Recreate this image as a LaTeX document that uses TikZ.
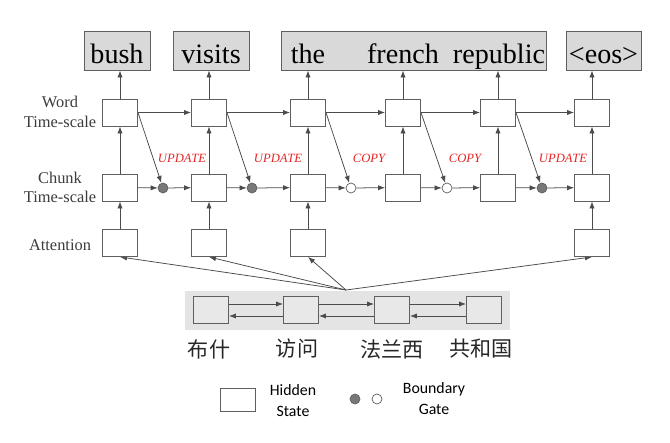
\documentclass[tikz,border=0pt]{standalone}
\usepackage{fontspec}
\setmainfont{Liberation Serif}
\newfontfamily\legendfont{Carlito}
\newfontfamily\cjk{Noto Sans CJK SC}
\usepackage{tikz}
\definecolor{edgegray}{RGB}{75,75,75}
\definecolor{boxgray}{RGB}{95,95,95}
\definecolor{outfill}{RGB}{217,217,217}
\definecolor{encfill}{RGB}{232,232,232}
\definecolor{encbg}{RGB}{228,228,228}
\definecolor{gatefill}{RGB}{120,120,120}
\definecolor{labelred}{RGB}{232,36,36}
\definecolor{labelgray}{RGB}{60,60,60}
\usetikzlibrary{arrows.meta}
\pgfdeclarelayer{bglayer}
\pgfdeclarelayer{edgelayer}
\pgfdeclarelayer{nodelayer}
\pgfsetlayers{bglayer,edgelayer,nodelayer,main}
\tikzstyle{state}=[rectangle,fill=white,draw=boxgray,line width=0.75pt,minimum width=1.05cm,minimum height=0.81cm,inner sep=0pt]
\tikzstyle{encstate}=[state,fill=encfill]
\tikzstyle{outbox}=[rectangle,fill=outfill,draw=boxgray,line width=0.75pt,minimum height=1.17cm,inner sep=0pt]
\tikzstyle{outword}=[inner sep=0pt,font=\fontsize{24}{28}\selectfont]
\tikzstyle{gate}=[circle,fill=gatefill,draw=boxgray,line width=0.6pt,minimum size=0.3cm,inner sep=0pt]
\tikzstyle{opengate}=[gate,fill=white]
\tikzstyle{rowlabel}=[align=center,text=labelgray,font=\fontsize{14}{16.5}\selectfont]
\tikzstyle{gatelabel}=[text=labelred,font=\fontsize{10.8}{12}\selectfont\itshape]
\tikzstyle{srcword}=[text=black!85,font=\fontsize{18}{20}\selectfont\cjk]
\tikzstyle{legendtext}=[align=center,font=\fontsize{13.5}{18}\selectfont\legendfont]
\tikzstyle{arr}=[-{Latex[length=6pt,width=4.5pt]},draw=edgegray,line width=0.65pt]

\begin{document}
\begin{tikzpicture}[x=0.03cm,y=-0.03cm]
        \useasboundingbox (0,0) rectangle (670,442);
        \begin{pgfonlayer}{bglayer}
            \fill [encbg] (185,291) rectangle (510,330);
        \end{pgfonlayer}

        \begin{pgfonlayer}{nodelayer}
            % output words
            \node [style = outbox, minimum width=1.98cm] (out1) at (117,50.5) {};
            \node [style = outbox, minimum width=2.28cm] (out2) at (211,50.5) {};
            \node [style = outbox, minimum width=7.95cm] (out3) at (413.5,50.5) {};
            \node [style = outbox, minimum width=2.25cm] (out6) at (603.5,50.5) {};
            \node [style = outword, anchor=base] (tbush) at (117,63) {bush};
            \node [style = outword, anchor=base] (tvisits) at (211,63) {visits};
            \node [style = outword, anchor=base] (tthe) at (308,63) {the};
            \node [style = outword, anchor=base] (tfrench) at (403,63) {french};
            \node [style = outword, anchor=base] (trepublic) at (499,63) {republic};
            \node [style = outword, anchor=base] (teos) at (603.5,63) {\textless eos\textgreater};

            % row labels
            \node [style = rowlabel] (lword) at (60,112) {Word\\Time-scale};
            \node [style = rowlabel] (lchunk) at (60,187.5) {Chunk\\Time-scale};
            \node [style = rowlabel] (lattn) at (60,245) {Attention};

            % word time-scale
            \node [style = state] (w1) at (120,112.5) {};
            \node [style = state] (w2) at (209,112.5) {};
            \node [style = state] (w3) at (308,112.5) {};
            \node [style = state] (w4) at (403,112.5) {};
            \node [style = state] (w5) at (498,112.5) {};
            \node [style = state] (w6) at (592,112.5) {};

            % chunk time-scale
            \node [style = state] (c1) at (120,187.5) {};
            \node [style = state] (c2) at (209,187.5) {};
            \node [style = state] (c3) at (308,187.5) {};
            \node [style = state] (c4) at (403,187.5) {};
            \node [style = state] (c5) at (498,187.5) {};
            \node [style = state] (c6) at (592,187.5) {};

            % boundary gates
            \node [style = gate] (g1) at (163,188) {};
            \node [style = gate] (g2) at (252,188) {};
            \node [style = opengate] (g3) at (351,188) {};
            \node [style = opengate] (g4) at (447,188) {};
            \node [style = gate] (g5) at (542,188) {};
            \node [style = gatelabel] (u1) at (182,158) {UPDATE};
            \node [style = gatelabel] (u2) at (278,158) {UPDATE};
            \node [style = gatelabel] (p3) at (369,158) {COPY};
            \node [style = gatelabel] (p4) at (465,158) {COPY};
            \node [style = gatelabel] (u5) at (563,158) {UPDATE};

            % attention
            \node [style = state] (a1) at (120,243) {};
            \node [style = state] (a2) at (209,243) {};
            \node [style = state] (a3) at (308,243) {};
            \node [style = state] (a6) at (592,243) {};
            \coordinate (src) at (346,290);

            % encoder
            \node [style = encstate] (e1) at (211,310) {};
            \node [style = encstate] (e2) at (301,310) {};
            \node [style = encstate] (e3) at (392,310) {};
            \node [style = encstate] (e4) at (484,310) {};
            \node [style = srcword] (s1) at (209,349) {布什};
            \node [style = srcword] (s2) at (297,349) {访问};
            \node [style = srcword] (s3) at (392,349) {法兰西};
            \node [style = srcword] (s4) at (481,349) {共和国};

            % legend
            \node [style = state, minimum height=0.69cm] (lstate) at (237.5,399.5) {};
            \node [style = legendtext] (lstatetext) at (293,401) {Hidden\\State};
            \node [style = gate] (lgate1) at (355,399) {};
            \node [style = opengate] (lgate2) at (377,399) {};
            \node [style = legendtext] (lgatetext) at (434,399) {Boundary\\Gate};
        \end{pgfonlayer}

        \begin{pgfonlayer}{edgelayer}
            \draw [style = arr] (w1.north) to (w1.north |- out1.south);
            \draw [style = arr] (w2.north) to (w2.north |- out2.south);
            \draw [style = arr] (w3.north) to (w3.north |- out3.south);
            \draw [style = arr] (w4.north) to (w4.north |- out3.south);
            \draw [style = arr] (w5.north) to (w5.north |- out3.south);
            \draw [style = arr] (w6.north) to (w6.north |- out6.south);

            \draw [style = arr] (w1) to (w2);
            \draw [style = arr] (w2) to (w3);
            \draw [style = arr] (w3) to (w4);
            \draw [style = arr] (w4) to (w5);
            \draw [style = arr] (w5) to (w6);

            \draw [style = arr] (c1) to (w1);
            \draw [style = arr] (c2) to (w2);
            \draw [style = arr] (c3) to (w3);
            \draw [style = arr] (c4) to (w4);
            \draw [style = arr] (c5) to (w5);
            \draw [style = arr] (c6) to (w6);

            \draw [style = arr] (w1.east) to (g1);
            \draw [style = arr] (w2.east) to (g2);
            \draw [style = arr] (w3.east) to (g3);
            \draw [style = arr] (w4.east) to (g4);
            \draw [style = arr] (w5.east) to (g5);

            \draw [style = arr] (c1) to (g1);
            \draw [style = arr] (g1) to (c2);
            \draw [style = arr] (c2) to (g2);
            \draw [style = arr] (g2) to (c3);
            \draw [style = arr] (c3) to (g3);
            \draw [style = arr] (g3) to (c4);
            \draw [style = arr] (c4) to (g4);
            \draw [style = arr] (g4) to (c5);
            \draw [style = arr] (c5) to (g5);
            \draw [style = arr] (g5) to (c6);

            \draw [style = arr] (a1) to (c1);
            \draw [style = arr] (a2) to (c2);
            \draw [style = arr] (a3) to (c3);
            \draw [style = arr] (a6) to (c6);

            \draw [style = arr] (src) to (a1.south);
            \draw [style = arr] (src) to (a2.south);
            \draw [style = arr] (src) to (a3.south);
            \draw [style = arr] (src) to (a6.south);

            \draw [style = arr] ([yshift=0.18cm]e1.east) to ([yshift=0.18cm]e2.west);
            \draw [style = arr] ([yshift=-0.18cm]e2.west) to ([yshift=-0.18cm]e1.east);
            \draw [style = arr] ([yshift=0.18cm]e2.east) to ([yshift=0.18cm]e3.west);
            \draw [style = arr] ([yshift=-0.18cm]e3.west) to ([yshift=-0.18cm]e2.east);
            \draw [style = arr] ([yshift=0.18cm]e3.east) to ([yshift=0.18cm]e4.west);
            \draw [style = arr] ([yshift=-0.18cm]e4.west) to ([yshift=-0.18cm]e3.east);
        \end{pgfonlayer}
    \end{tikzpicture}
\end{document}
